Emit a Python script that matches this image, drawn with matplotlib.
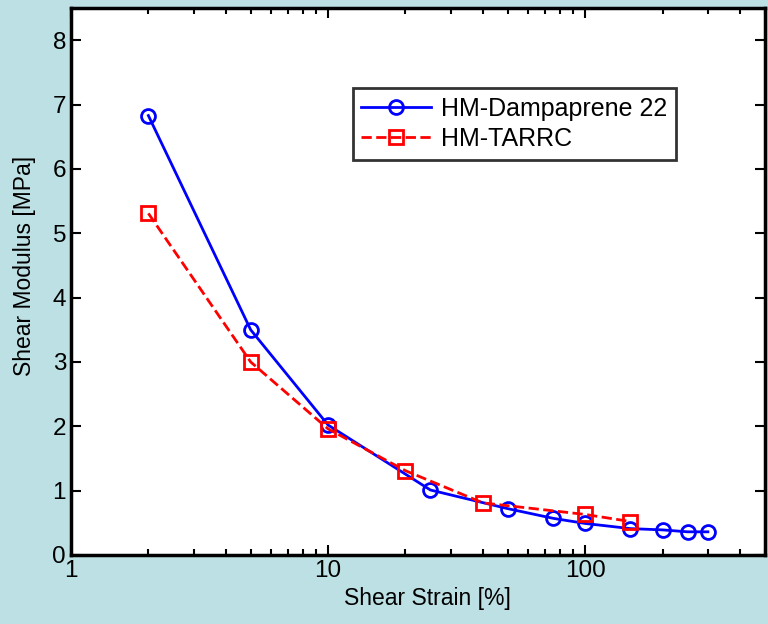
import matplotlib
matplotlib.use("Agg")
import matplotlib.pyplot as plt
import numpy as np

plt.rcParams['font.family'] = ['Liberation Sans', 'DejaVu Sans']

# shear strain [%] and shear modulus [MPa]
strain_damp = [2, 5, 10, 25, 50, 75, 100, 150, 200, 250, 300]
modulus_damp = [6.83, 3.50, 2.02, 1.01, 0.72, 0.57, 0.49, 0.41, 0.39, 0.36, 0.36]
strain_tarrc = [2, 5, 10, 20, 40, 100, 150]
modulus_tarrc = [5.31, 3.00, 1.96, 1.31, 0.81, 0.63, 0.52]
labels = ['HM-Dampaprene 22', 'HM-TARRC']

fig = plt.figure(figsize=(7.68, 6.24), dpi=100)
fig.patch.set_facecolor('#bce0e3')
ax = fig.add_axes([0.0924, 0.1106, 0.9036, 0.8764])
ax.set_facecolor('white')

ax.plot(strain_damp, modulus_damp, '-o', color='#0000ff', lw=2, ms=10,
        mfc='none', mew=2, label=labels[0])
ax.plot(strain_tarrc, modulus_tarrc, '--s', color='#ff0000', lw=2, ms=10,
        mfc='none', mew=2, label=labels[1])

ax.set_xscale('log')
ax.set_xlim(1, 500)
ax.set_ylim(0, 8.5)
ax.set_xticks([1, 10, 100])
ax.set_xticklabels(['1', '10', '100'])
ax.set_yticks(range(0, 9))
ax.tick_params(which='both', direction='in', top=True, right=True,
               labelsize=17.5, width=1.5, color='black')
ax.tick_params(which='major', length=7)
ax.tick_params(which='minor', length=4)
for s in ax.spines.values():
    s.set_linewidth(2.5)

ax.set_xlabel('Shear Strain [%]', fontsize=16.5)
ax.set_ylabel('Shear Modulus [MPa]', fontsize=16.5)
ax.xaxis.set_label_coords(0.513, -0.058)
ax.yaxis.set_label_coords(-0.05, 0.528)

leg = ax.legend(loc='upper left', bbox_to_anchor=(0.406, 0.854), fontsize=18,
                frameon=True, fancybox=False, edgecolor='black',
                handlelength=2.8, borderpad=0.35, labelspacing=0.25,
                handletextpad=0.4, borderaxespad=0)
leg.get_frame().set_linewidth(2)

fig.savefig('out.png', dpi=100, facecolor=fig.get_facecolor())
